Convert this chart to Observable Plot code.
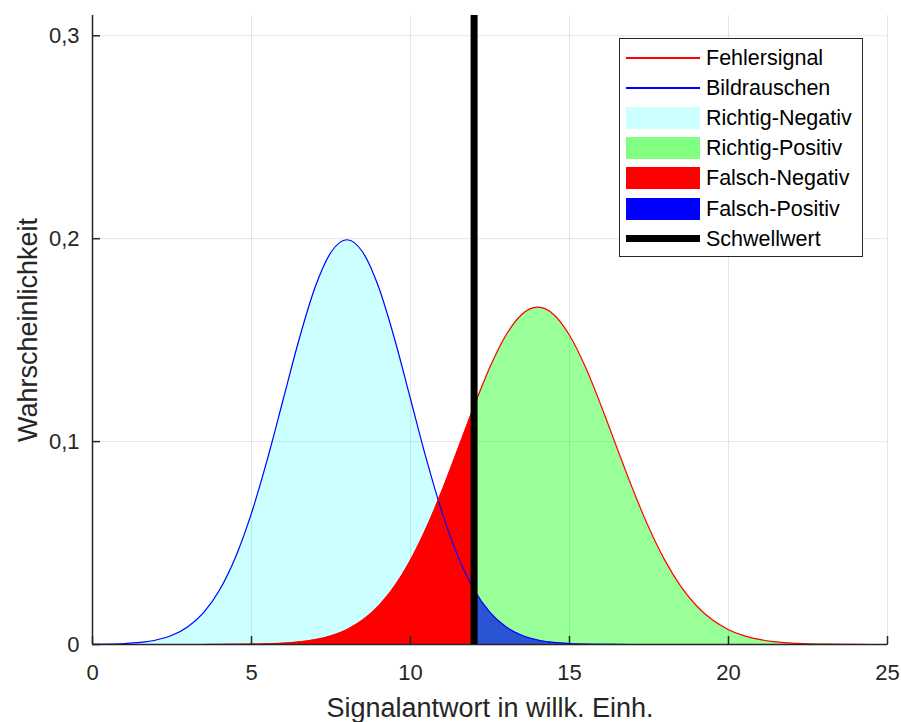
<!DOCTYPE html>
<html>
<head>
<meta charset="utf-8">
<script src="https://cdn.jsdelivr.net/npm/d3@7"></script>
<script src="https://cdn.jsdelivr.net/npm/@observablehq/plot@0.6"></script>
<style>
  body { margin: 0; background: #fff; font-family: "Liberation Sans", Arial, sans-serif; }
  #wrap { position: relative; width: 901px; height: 722px; }
  #legend { position: absolute; left: 619px; top: 38px; width: 244px; height: 219px;
            box-sizing: border-box; border: 1px solid #262626; background: #fff; }
  .sw { position: absolute; left: 6px; width: 74px; }
  .lab { position: absolute; left: 86px; font-size: 21.5px; line-height: 24px; height: 24px;
         white-space: nowrap; color: #000; }
</style>
</head>
<body>
<div id="wrap"><div id="chart"></div><div id="legend"></div></div>
<script>
// ---- data ----
const xValues = [0,0.5,1,1.5,2,2.5,3,3.5,4,4.5,5,5.5,6,6.5,7,7.5,8,8.5,9,9.5,10,10.5,11,11.5,12,12.5,13,13.5,14,14.5,15,15.5,16,16.5,17,17.5,18,18.5,19,19.5,20,20.5,21,21.5,22,22.5,23,23.5,24,24.5,25];
// Bildrauschen (noise)
const noiseValues = [0.00007,0.00018,0.00044,0.00101,0.00222,0.00455,0.00876,0.01587,0.02700,0.04315,0.06476,0.09132,0.12099,0.15057,0.17603,0.19333,0.19947,0.19333,0.17603,0.15057,0.12099,0.09132,0.06476,0.04315,0.02700,0.01587,0.00876,0.00455,0.00222,0.00101,0.00044,0.00018,0.00007,0.00003,0.00001,0,0,0,0,0,0,0,0,0,0,0,0,0,0,0,0];
// Fehlersignal (signal)
const signalValues = [0,0,0,0,0,0,0.000005,0.000012,0.000028,0.000066,0.000147,0.000314,0.000643,0.001259,0.002364,0.004244,0.007304,0.01203,0.01898,0.02866,0.04146,0.05740,0.07610,0.09663,0.11746,0.13674,0.15242,0.16266,0.16623,0.16266,0.15242,0.13674,0.11746,0.09663,0.07610,0.05740,0.04146,0.02866,0.01898,0.01203,0.007304,0.004244,0.002364,0.001259,0.000643,0.000314,0.000147,0.000066,0.000028,0.000012,0.000005];
const threshold = 12;
const xTicks = [0,5,10,15,20,25];
const yTicks = [0,0.1,0.2,0.3];
const xLabel = "Signalantwort in willk. Einh.";
const yLabel = "Wahrscheinlichkeit";
const legendLabels = ["Fehlersignal","Bildrauschen","Richtig-Negativ","Richtig-Positiv","Falsch-Negativ","Falsch-Positiv","Schwellwert"];

const table = xValues.map((x, i) => ({x, noise: noiseValues[i], signal: signalValues[i]}));
const left = table.filter(d => d.x <= threshold);
const right = table.filter(d => d.x >= threshold);
const fmtY = d => d === 0 ? "0" : d.toFixed(1).replace(".", ",");
const ink = "#262626";
const curve = "monotone-x";

const chart = Plot.plot({
  width: 901, height: 722,
  marginLeft: 92, marginRight: 14, marginTop: 15, marginBottom: 78,
  style: {fontFamily: "Liberation Sans, Arial, sans-serif", background: "#fff"},
  x: {domain: [0, 25]},
  y: {domain: [0, 0.31]},
  marks: [
    Plot.gridX(xTicks, {stroke: "#000", strokeOpacity: 0.1}),
    Plot.gridY(yTicks.filter(d => d > 0), {stroke: "#000", strokeOpacity: 0.1}),
    Plot.areaY(left, {x: "x", y: "noise", fill: "#00ffff", fillOpacity: 0.2, curve}),
    Plot.areaY(right, {x: "x", y: "signal", fill: "#00ff00", fillOpacity: 0.4, curve}),
    Plot.areaY(left, {x: "x", y: "signal", fill: "#ff0000", curve}),
    Plot.areaY(right, {x: "x", y: "noise", fill: "#2a54d4", curve}),
    Plot.lineY(table, {x: "x", y: "noise", stroke: "#0000ff", strokeWidth: 1.2, curve}),
    Plot.lineY(table, {x: "x", y: "signal", stroke: "#ff0000", strokeWidth: 1.2, curve}),
    Plot.axisX(xTicks, {anchor: "bottom", tickSize: -8, tickPadding: 28, fontSize: 22, label: null, stroke: ink, fill: ink, strokeWidth: 1.5}),
    Plot.axisY(yTicks, {anchor: "left", tickSize: -8, tickPadding: 21, fontSize: 22, label: null, tickFormat: fmtY, stroke: ink, fill: ink, strokeWidth: 1.5}),
    Plot.ruleY([0], {stroke: ink, strokeWidth: 1.5}),
    Plot.ruleX([0], {stroke: ink, strokeWidth: 1.5}),
    Plot.ruleX([threshold], {stroke: "#000", strokeWidth: 7}),
    Plot.text([xLabel], {frameAnchor: "bottom", dy: 64, lineAnchor: "middle", textAnchor: "middle", fontSize: 27, fill: ink}),
    Plot.text([yLabel], {frameAnchor: "left", dx: -64, rotate: -90, lineAnchor: "middle", textAnchor: "middle", fontSize: 27, fill: ink})
  ]
});
document.getElementById("chart").appendChild(chart);

// ---- legend ----
const swatches = [
  {type: "line", color: "#ff0000", w: 2},
  {type: "line", color: "#0000ff", w: 2},
  {type: "patch", color: "#ccffff"},
  {type: "patch", color: "#80ff80"},
  {type: "patch", color: "#ff0000"},
  {type: "patch", color: "#0000ff"},
  {type: "line", color: "#000000", w: 7}
];
const lg = document.getElementById("legend");
legendLabels.forEach((label, i) => {
  const cy = 18.7 + i * 30.17;
  const s = swatches[i];
  const sw = document.createElement("div");
  sw.className = "sw";
  const h = s.type === "patch" ? 22 : s.w;
  sw.style.top = Math.round(cy - h / 2) + "px";
  sw.style.height = h + "px";
  sw.style.backgroundColor = s.color;
  lg.appendChild(sw);
  const t = document.createElement("div");
  t.className = "lab";
  t.style.top = Math.round(cy - 12) + "px";
  t.textContent = label;
  lg.appendChild(t);
});
</script>
</body>
</html>
